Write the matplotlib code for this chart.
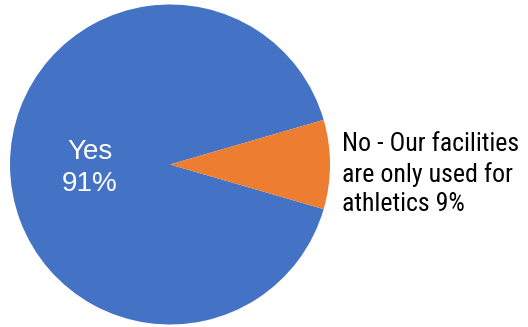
import matplotlib
matplotlib.use("Agg")
import matplotlib.pyplot as plt

# survey answers
labels = ["Yes", "No - Our facilities\nare only used for\nathletics"]
shares = [91, 9]
colors = ["#4472C4", "#ED7D31"]

W, H = 528, 327
fig = plt.figure(figsize=(W / 100, H / 100), dpi=100)
# pie centre ~(170, 164) px, radius ~160 px
ax = fig.add_axes([10 / W, 2.5 / H, 320 / W, 320 / H])
wedges, _ = ax.pie(shares, colors=colors, startangle=16.2, counterclock=True,
                   radius=1.0, wedgeprops=dict(linewidth=0))
ax.set_xlim(-1, 1)
ax.set_ylim(-1, 1)
ax.set_aspect("equal")
ax.axis("off")

# label inside the big slice
ax.text(-0.5, -0.02, f"{labels[0]}\n{shares[0]}%", color="white", ha="center",
        va="center", fontsize=20, family="Liberation Sans", linespacing=1.3)

# label to the right of the small slice
fig.text(342 / W, 1 - 174 / H, f"{labels[1]} {shares[1]}%", color="black",
         ha="left", va="center", fontsize=18.6, family="Roboto Condensed",
         linespacing=1.3)

fig.savefig("out.png", dpi=100)
plt.close(fig)
